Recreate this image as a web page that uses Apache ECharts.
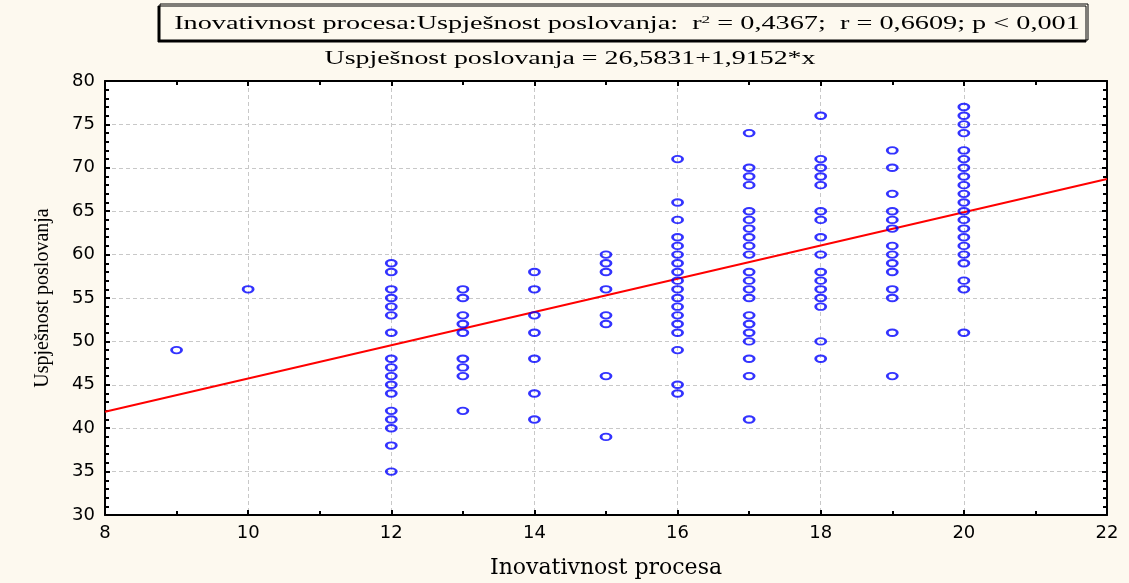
<!DOCTYPE html>
<html>
<head>
<meta charset="utf-8">
<script src="https://cdn.jsdelivr.net/npm/echarts@6/dist/echarts.min.js"></script>
<style>
  html, body { margin: 0; padding: 0; background: #fdf9ef; }
  #chart { width: 1129px; height: 583px; }
</style>
</head>
<body>
<div id="chart"></div>
<script>
// Inovativnost procesa (x) vs Uspjesnost poslovanja (y), one list per x level
const xLevels = [9, 10, 12, 13, 14, 15, 16, 17, 18, 19, 20];
const yAt9 = [49];
const yAt10 = [56];
const yAt12 = [59, 58, 56, 55, 54, 53, 51, 48, 47, 46, 45, 44, 42, 41, 40, 38, 35];
const yAt13 = [56, 55, 53, 52, 51, 48, 47, 46, 42];
const yAt14 = [58, 56, 53, 51, 48, 44, 41];
const yAt15 = [60, 59, 58, 56, 53, 52, 46, 39];
const yAt16 = [71, 66, 64, 62, 61, 60, 59, 58, 57, 56, 55, 54, 53, 52, 51, 49, 45, 44];
const yAt17 = [74, 70, 69, 68, 65, 64, 63, 62, 61, 60, 58, 57, 56, 55, 53, 52, 51, 50, 48, 46, 41];
const yAt18 = [76, 71, 70, 69, 68, 65, 64, 62, 60, 58, 57, 56, 55, 54, 50, 48];
const yAt19 = [72, 70, 67, 65, 64, 63, 61, 60, 59, 58, 56, 55, 51, 46];
const yAt20 = [77, 76, 75, 74, 72, 71, 70, 69, 68, 67, 66, 65, 64, 63, 62, 61, 60, 59, 57, 56, 51];
const yByLevel = [yAt9, yAt10, yAt12, yAt13, yAt14, yAt15, yAt16, yAt17, yAt18, yAt19, yAt20];

// fitted line
const intercept = 26.5831;
const slope = 1.9152;
const xRange = [8, 22];

const points = [];
xLevels.forEach(function (x, i) {
  yByLevel[i].forEach(function (y) { points.push([x, y]); });
});
const fitLine = xRange.map(function (x) { return [x, intercept + slope * x]; });

const serif = '"Liberation Serif", "Times New Roman", serif';
const tickFont = { fontFamily: '"DejaVu Sans", Arial, sans-serif', fontSize: 18, color: '#000' };

const chart = echarts.init(document.getElementById('chart'));
chart.setOption({
  backgroundColor: '#fdf9ef',
  animation: false,
  graphic: [
    {
      type: 'rect',
      shape: { x: 160, y: 4, width: 928, height: 36 },
      style: { fill: '#fdf9ef', stroke: '#000', lineWidth: 1, shadowColor: '#000', shadowOffsetX: -2, shadowOffsetY: 2, shadowBlur: 0 },
      z: 10
    },
    {
      type: 'text',
      x: 627, y: 24, scaleX: 1.57,
      style: {
        text: '{t|Inovativnost procesa:Uspješnost poslovanja:  r}{s|2}{t| = 0,4367;  r = 0,6609; p < 0,001}',
        align: 'center', verticalAlign: 'middle',
        rich: {
          t: { fontFamily: serif, fontSize: 18, fill: '#000' },
          s: { fontFamily: serif, fontSize: 11, fill: '#000', verticalAlign: 'top' }
        }
      },
      z: 11
    },
    {
      type: 'text',
      x: 570, y: 59, scaleX: 1.55,
      style: {
        text: 'Uspješnost poslovanja = 26,5831+1,9152*x',
        font: '18px ' + serif, fill: '#000',
        align: 'center', verticalAlign: 'middle'
      },
      z: 11
    }
  ],
  grid: {
    left: 105, right: 22, top: 81, bottom: 68,
    outerBoundsMode: 'none',
    show: true, backgroundColor: '#fff', borderWidth: 0
  },
  xAxis: [
    {
      type: 'value', min: 8, max: 22, interval: 2,
      name: 'Inovativnost procesa', nameLocation: 'middle', nameGap: 42,
      nameTextStyle: { fontFamily: '"DejaVu Serif", serif', fontSize: 22, color: '#000' },
      axisLine: { lineStyle: { color: '#000', width: 2 } },
      axisTick: { inside: true, length: 5, lineStyle: { color: '#000', width: 2 } },
      minorTick: { show: true, splitNumber: 2, length: 4, lineStyle: { color: '#000', width: 2 } },
      axisLabel: Object.assign({ margin: 9 }, tickFont),
      splitLine: { show: true, lineStyle: { color: '#c8c8c8', type: [4, 3], width: 1 } }
    },
    {
      type: 'value', min: 8, max: 22, interval: 2, position: 'top',
      axisLine: { lineStyle: { color: '#000', width: 2 } },
      axisTick: { inside: true, length: 5, lineStyle: { color: '#000', width: 2 } },
      minorTick: { show: true, splitNumber: 2, length: 4, lineStyle: { color: '#000', width: 2 } },
      axisLabel: { show: false },
      splitLine: { show: false }
    }
  ],
  yAxis: [
    {
      type: 'value', min: 30, max: 80, interval: 5,
      name: 'Uspješnost poslovanja', nameLocation: 'middle', nameGap: 52,
      nameTextStyle: { fontFamily: serif, fontSize: 20, color: '#000' },
      axisLine: { lineStyle: { color: '#000', width: 2 } },
      axisTick: { inside: true, length: 5, lineStyle: { color: '#000', width: 2 } },
      minorTick: { show: true, splitNumber: 5, length: 4, lineStyle: { color: '#000', width: 2 } },
      axisLabel: Object.assign({ margin: 10 }, tickFont),
      splitLine: { show: true, lineStyle: { color: '#c8c8c8', type: [4, 3], width: 1 } }
    },
    {
      type: 'value', min: 30, max: 80, interval: 5, position: 'right',
      axisLine: { lineStyle: { color: '#000', width: 2 } },
      axisTick: { inside: true, length: 5, lineStyle: { color: '#000', width: 2 } },
      minorTick: { show: true, splitNumber: 5, length: 4, lineStyle: { color: '#000', width: 2 } },
      axisLabel: { show: false },
      splitLine: { show: false }
    }
  ],
  series: [
    {
      type: 'line',
      data: fitLine,
      showSymbol: false,
      lineStyle: { color: '#ff0000', width: 2 },
      z: 2
    },
    {
      type: 'scatter',
      data: points,
      symbol: 'circle',
      symbolSize: [10, 6.5],
      itemStyle: { color: 'rgba(0,0,0,0)', borderColor: '#0000ff', borderWidth: 2.3 },
      z: 3
    }
  ]
});
</script>
</body>
</html>
